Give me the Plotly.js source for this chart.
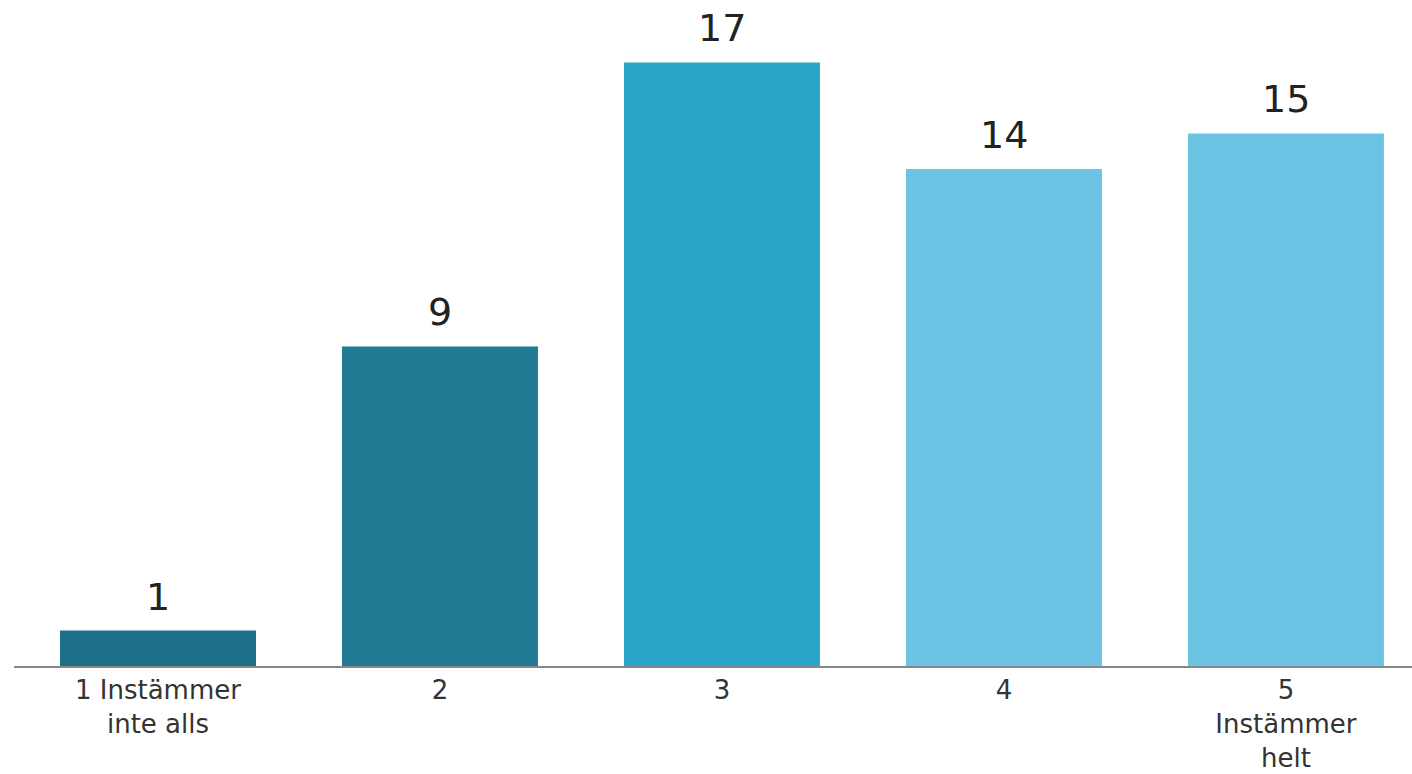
<!DOCTYPE html>
<html>
<head>
<meta charset="utf-8">
<script src="https://cdn.plot.ly/plotly-3.0.1.min.js"></script>
<style>html,body{margin:0;padding:0;background:#fff;}#chart{width:1412px;height:774px;}</style>
</head>
<body>
<div id="chart"></div>
<script>
const categories = ["1 Instämmer<br>inte alls", "2", "3", "4", "5<br>Instämmer<br>helt"];
const values = [1, 9, 17, 14, 15];
const colors = ["#1d7088", "#217b92", "#2aa6c9", "#6cc4e5", "#6cc4e5"];

const trace = {
  type: "bar",
  x: categories,
  y: values,
  marker: {color: colors},
  hoverinfo: "none"
};

const annotations = categories.map((c, i) => ({
  x: i,
  y: values[i],
  xref: "x",
  yref: "y",
  text: String(values[i]),
  showarrow: false,
  yanchor: "bottom",
  yshift: 10,
  font: {family: "DejaVu Sans, sans-serif", size: 38, color: "#222"}
}));

const layout = {
  width: 1412,
  height: 774,
  margin: {l: 14, r: 0, t: 0, b: 108},
  paper_bgcolor: "#fff",
  plot_bgcolor: "#fff",
  showlegend: false,
  bargap: 0.305,
  annotations: annotations,
  xaxis: {
    type: "category",
    range: [-0.5106, 4.447],
    showline: true,
    linecolor: "#888",
    linewidth: 2,
    ticks: "",
    showgrid: false,
    zeroline: false,
    tickfont: {family: "DejaVu Sans, sans-serif", size: 26, color: "#333"},
    fixedrange: true
  },
  yaxis: {
    range: [0, 18.76],
    visible: false,
    showgrid: false,
    zeroline: false,
    fixedrange: true
  }
};

Plotly.newPlot("chart", [trace], layout, {displayModeBar: false, staticPlot: true});
</script>
</body>
</html>
